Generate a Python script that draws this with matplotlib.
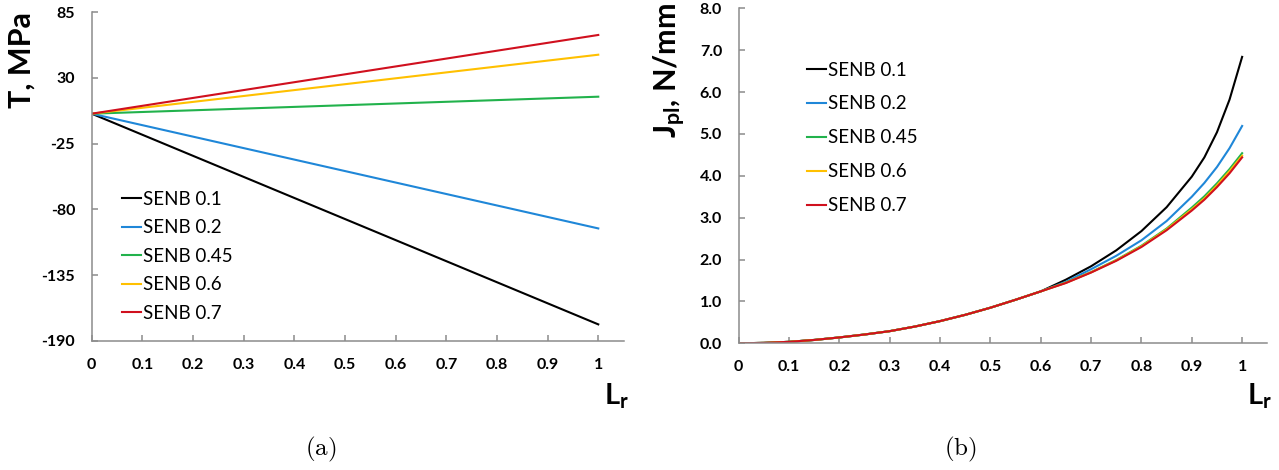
import numpy as np
import matplotlib
matplotlib.use("Agg")
import matplotlib.pyplot as plt

plt.rcParams['font.family'] = ['Lato', 'DejaVu Sans']
plt.rcParams['mathtext.fontset'] = 'custom'
plt.rcParams['mathtext.rm'] = 'Lato'
plt.rcParams['mathtext.bf'] = 'Lato:bold'
plt.rcParams['mathtext.it'] = 'Lato:italic'

# series names and colours
labels = ['SENB 0.1', 'SENB 0.2', 'SENB 0.45', 'SENB 0.6', 'SENB 0.7']
colors = ['#000000', '#1f87d8', '#22b24c', '#ffc000', '#d0101e']

# (a) T-stress, linear in Lr
lr_t = [0.0, 1.0]
t_senb01 = [0.0, -176.1]
t_senb02 = [0.0, -95.9]
t_senb045 = [0.0, 14.2]
t_senb06 = [0.0, 49.3]
t_senb07 = [0.0, 65.8]

# (b) plastic part of J
lr_j = [0.0, 0.05, 0.1, 0.15, 0.2, 0.25, 0.3, 0.35, 0.4, 0.45, 0.5, 0.55, 0.6,
        0.65, 0.7, 0.75, 0.8, 0.85, 0.9, 0.925, 0.95, 0.975, 1.0]
j_low = [0.0, 0.01, 0.035, 0.08, 0.14, 0.21, 0.29, 0.40, 0.53, 0.68, 0.85, 1.04, 1.24]
j_senb01 = j_low + [1.52, 1.84, 2.22, 2.68, 3.25, 3.98, 4.44, 5.04, 5.82, 6.84]
j_senb02 = j_low + [1.47, 1.77, 2.09, 2.46, 2.92, 3.50, 3.83, 4.21, 4.66, 5.19]
j_senb045 = j_low + [1.45, 1.70, 1.99, 2.33, 2.74, 3.24, 3.51, 3.82, 4.16, 4.54]
j_senb06 = j_low + [1.445, 1.695, 1.98, 2.315, 2.72, 3.20, 3.46, 3.77, 4.11, 4.48]
j_senb07 = j_low + [1.44, 1.69, 1.97, 2.30, 2.70, 3.17, 3.43, 3.73, 4.06, 4.44]

x_ticks = [0, 0.1, 0.2, 0.3, 0.4, 0.5, 0.6, 0.7, 0.8, 0.9, 1]
x_ticklabels = ['0', '0.1', '0.2', '0.3', '0.4', '0.5', '0.6', '0.7', '0.8', '0.9', '1']
t_ticks = [85, 30, -25, -80, -135, -190]
j_ticks = [0, 1, 2, 3, 4, 5, 6, 7, 8]

W, H = 1279, 470
fig = plt.figure(figsize=(W / 100, H / 100), dpi=100)

ax1 = fig.add_axes([91.7 / W, 1 - 341 / H, (623.6 - 91.7) / W, (341 - 12) / H])
ax2 = fig.add_axes([738.7 / W, 1 - 343.3 / H, (1267.3 - 738.7) / W, (343.3 - 8.3) / H])

for y, lab, c in zip([t_senb01, t_senb02, t_senb045, t_senb06, t_senb07], labels, colors):
    ax1.plot(lr_t, y, color=c, lw=1.5, label=lab)
for y, lab, c in zip([j_senb01, j_senb02, j_senb045, j_senb06, j_senb07], labels, colors):
    ax2.plot(lr_j, y, color=c, lw=1.5, label=lab)

ax1.set_ylim(-190, 85)
ax1.set_yticks(t_ticks)
ax1.set_yticklabels([str(v) for v in t_ticks])
ax2.set_ylim(0, 8)
ax2.set_yticks(j_ticks)
ax2.set_yticklabels(['%.1f' % v for v in j_ticks])

for ax in (ax1, ax2):
    ax.set_xlim(0, 1.05)
    ax.set_xticks(x_ticks)
    ax.set_xticklabels(x_ticklabels)
    for s in ('top', 'right'):
        ax.spines[s].set_visible(False)
    for s in ('left', 'bottom'):
        ax.spines[s].set_color('#8c8c8c')
        ax.spines[s].set_linewidth(1.1)
    ax.tick_params(direction='in', length=4, width=1.1, color='#8c8c8c',
                   labelsize=11.5, pad=12)
    for lbl in ax.get_xticklabels() + ax.get_yticklabels():
        lbl.set_fontweight('bold')

ax1.legend(loc='upper left', bbox_to_anchor=(0.057, 0.456), frameon=False,
           fontsize=13.5, handlelength=1.0, handletextpad=0.1, labelspacing=0.61,
           borderpad=0, borderaxespad=0)
ax2.legend(loc='upper left', bbox_to_anchor=(0.129, 0.841), frameon=False,
           fontsize=13.5, handlelength=1.0, handletextpad=0.1, labelspacing=0.90,
           borderpad=0, borderaxespad=0)

# axis titles
fig.text(21.5 / W, 1 - 60 / H, 'T, MPa', rotation=90, ha='center', va='center',
         fontsize=22, fontweight='bold')
fig.text(670 / W, 1 - 70 / H, r'J$_{\mathbf{pl}}$, N/mm', rotation=90, ha='center',
         va='center', fontsize=22, fontweight='bold')
fig.text(617 / W, 1 - 396 / H, r'L$_{\mathbf{r}}$', ha='center', va='center',
         fontsize=21, fontweight='bold')
fig.text(1259.5 / W, 1 - 396 / H, r'L$_{\mathbf{r}}$', ha='center', va='center',
         fontsize=21, fontweight='bold')

# panel captions
fig.text(321 / W, 1 - 449 / H, r'$(\mathrm{a})$', ha='center', va='center',
         fontsize=18, math_fontfamily='cm')
fig.text(960.5 / W, 1 - 449 / H, r'$(\mathrm{b})$', ha='center', va='center',
         fontsize=18, math_fontfamily='cm')

fig.savefig('out.png', dpi=100)
